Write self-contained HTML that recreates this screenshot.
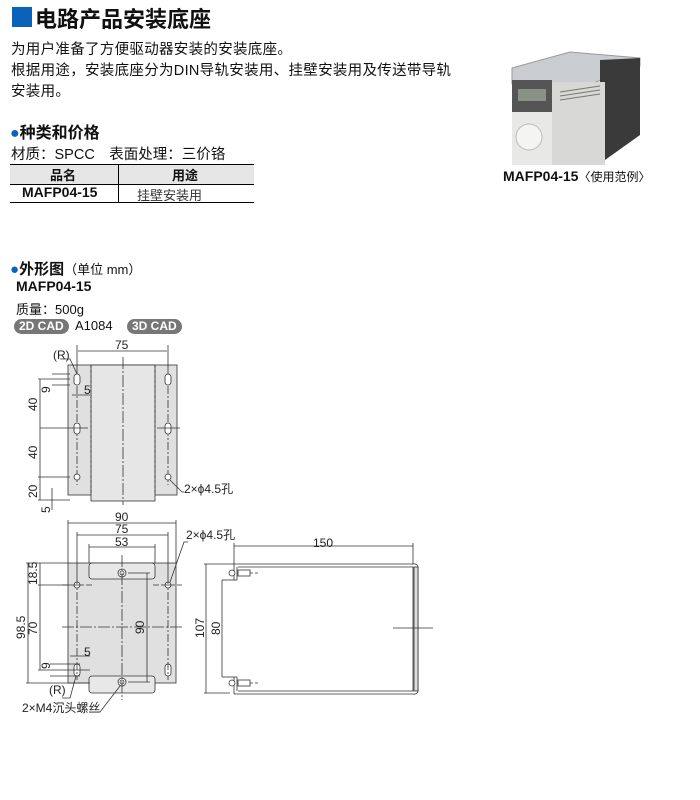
<!DOCTYPE html>
<html><head><meta charset="utf-8">
<style>
body{margin:0;width:700px;height:800px;background:#fff;position:relative;font-family:"Liberation Sans","Noto Sans CJK SC",sans-serif;color:#111;overflow:hidden}
.a{position:absolute;white-space:nowrap}
.b{font-weight:bold}
.badge{position:absolute;background:#777;color:#fff;font-weight:bold;font-size:12px;border-radius:8px;padding:0 5px;height:15px;line-height:15px}
</style></head><body>
<div class="a" style="left:12px;top:7px;width:20px;height:20px;background:#0a63b8"></div>
<div class="a b" style="left:35px;top:2px;font-size:22px">电路产品安装底座</div>
<div class="a" style="left:11px;top:40px;font-size:14.5px;line-height:21px;letter-spacing:0.3px">为用户准备了方便驱动器安装的安装底座。<br>根据用途，安装底座分为DIN导轨安装用、挂壁安装用及传送带导轨<br>安装用。</div>
<div class="a b" style="left:10px;top:119px;font-size:16px"><span style="color:#0a63b8">●</span>种类和价格</div>
<div class="a" style="left:11px;top:143px;font-size:14.5px">材质：SPCC　表面处理：三价铬</div>
<div class="a" style="left:10px;top:164px;width:244px;height:19px;background:#e6e6e6;border-top:1px solid #000;border-bottom:1px solid #000"></div>
<div class="a" style="left:10px;top:202px;width:244px;height:1px;background:#000"></div>
<div class="a" style="left:118px;top:164px;width:1px;height:39px;background:#000"></div>
<div class="a b" style="left:50px;top:165px;font-size:13px">品名</div>
<div class="a b" style="left:172px;top:165px;font-size:13px">用途</div>
<div class="a b" style="left:22px;top:184px;font-size:14px">MAFP04-15</div>
<div class="a" style="left:137px;top:185px;font-size:13px;color:#333">挂壁安装用</div>

<svg class="a" style="left:505px;top:45px" width="145" height="125" viewBox="505 45 145 125">
<polygon points="512,68 570,52 640,58 640,66 585,86 550,96 512,84" fill="#c9cdd2" stroke="#999"/>
<polygon points="600,60 640,58 640,135 605,160 600,100" fill="#3a3a3a"/>
<rect x="550" y="82" width="55" height="83" fill="#d8d8d6"/>
<rect x="512" y="80" width="40" height="85" fill="#e8e8e6"/>
<rect x="512" y="80" width="40" height="32" fill="#555"/>
<rect x="518" y="89" width="28" height="12" fill="#8a9288"/>
<circle cx="529" cy="137" r="13" fill="#f4f4f2" stroke="#bbb"/>
<g stroke="#777"><line x1="560" y1="92" x2="600" y2="86"/><line x1="560" y1="96" x2="600" y2="90"/><line x1="560" y1="100" x2="600" y2="94"/></g>
</svg>
<div class="a b" style="left:503px;top:168px;font-size:14px">MAFP04-15<span style="font-weight:normal;font-size:12px">〈使用范例〉</span></div>

<div class="a b" style="left:10px;top:258px;font-size:15px"><span style="color:#0a63b8">●</span>外形图<span style="font-weight:normal;font-size:13px">（单位 mm）</span></div>
<div class="a b" style="left:16px;top:278px;font-size:14px">MAFP04-15</div>
<div class="a" style="left:16px;top:299px;font-size:13px">质量：500g</div>
<div class="badge" style="left:14px;top:319px">2D CAD</div>
<div class="a" style="left:75px;top:318px;font-size:13px">A1084</div>
<div class="badge" style="left:127px;top:319px">3D CAD</div>

<svg class="a" style="left:0;top:0" width="700" height="800" font-family="Liberation Sans, Noto Sans CJK SC, sans-serif" font-size="12">
<g stroke="#333" stroke-width="0.8" fill="none">
<rect x="68" y="365" width="109" height="130" fill="#e0e0e0"/>
<rect x="91" y="365" width="64" height="136" fill="#e6e6e6"/>
<line x1="91" y1="365" x2="91" y2="495" stroke-dasharray="3,2"/><line x1="155" y1="365" x2="155" y2="495" stroke-dasharray="3,2"/>
<line x1="123" y1="357" x2="123" y2="505" stroke-dasharray="12,2,2,2"/>
<line x1="77" y1="372" x2="77" y2="485" stroke-dasharray="8,2,2,2"/><line x1="168" y1="372" x2="168" y2="485" stroke-dasharray="8,2,2,2"/>
<rect x="74" y="374" width="6" height="11" rx="3" fill="#fff"/><rect x="165" y="374" width="6" height="11" rx="3" fill="#fff"/>
<rect x="74" y="423" width="6" height="11" rx="3" fill="#fff"/><rect x="165" y="423" width="6" height="11" rx="3" fill="#fff"/>
<circle cx="77" cy="477" r="3" fill="#fff"/><circle cx="168" cy="477" r="3" fill="#fff"/>
<line x1="40" y1="428" x2="88" y2="428"/><line x1="157" y1="428" x2="180" y2="428"/>
<line x1="78" y1="351" x2="167" y2="351"/><line x1="77" y1="345" x2="77" y2="372"/><line x1="168" y1="345" x2="168" y2="372"/>
<line x1="40" y1="379" x2="40" y2="500"/><line x1="38" y1="379" x2="70" y2="379"/><line x1="38" y1="477" x2="70" y2="477"/><line x1="38" y1="500" x2="70" y2="500"/>
<line x1="52" y1="374" x2="70" y2="374"/><line x1="52" y1="385" x2="70" y2="385"/>
<line x1="72" y1="395" x2="90" y2="395"/><line x1="52" y1="488" x2="52" y2="510"/>
<polyline points="60,359 70,359 77,374"/><polyline points="170,480 182,492 184,492"/>
<rect x="68" y="563" width="108" height="120" fill="#e0e0e0"/>
<rect x="89" y="563" width="66" height="16" rx="3" fill="#e8e8e8"/>
<rect x="89" y="676" width="66" height="17" rx="3" fill="#e8e8e8"/>
<circle cx="122" cy="573" r="4" fill="#fff"/><circle cx="122" cy="573" r="2"/>
<circle cx="122" cy="682" r="4" fill="#fff"/><circle cx="122" cy="682" r="2"/>
<circle cx="77" cy="585" r="3" fill="#fff"/><circle cx="168" cy="585" r="3" fill="#fff"/>
<rect x="74" y="664" width="6" height="12" rx="3" fill="#fff"/><rect x="165" y="664" width="6" height="12" rx="3" fill="#fff"/>
<line x1="122" y1="555" x2="122" y2="700" stroke-dasharray="12,2,2,2"/>
<line x1="62" y1="627" x2="182" y2="627" stroke-dasharray="12,2,2,2"/>
<line x1="77" y1="578" x2="77" y2="680" stroke-dasharray="8,2,2,2"/><line x1="168" y1="578" x2="168" y2="680" stroke-dasharray="8,2,2,2"/>
<line x1="62" y1="585" x2="92" y2="585" stroke-dasharray="6,2"/><line x1="153" y1="585" x2="182" y2="585" stroke-dasharray="6,2"/>
<line x1="68" y1="523" x2="176" y2="523"/><line x1="68" y1="520" x2="68" y2="563"/><line x1="176" y1="520" x2="176" y2="563"/>
<line x1="77" y1="535" x2="168" y2="535"/><line x1="77" y1="532" x2="77" y2="578"/><line x1="168" y1="532" x2="168" y2="578"/>
<line x1="89" y1="547" x2="155" y2="547"/><line x1="89" y1="544" x2="89" y2="563"/><line x1="155" y1="544" x2="155" y2="563"/>
<line x1="28" y1="563" x2="28" y2="683"/><line x1="26" y1="563" x2="68" y2="563"/><line x1="26" y1="683" x2="90" y2="683"/>
<line x1="40" y1="563" x2="40" y2="670"/><line x1="38" y1="585" x2="70" y2="585"/><line x1="38" y1="670" x2="90" y2="670"/>
<line x1="147" y1="573" x2="147" y2="682"/><line x1="128" y1="573" x2="150" y2="573"/><line x1="128" y1="682" x2="150" y2="682"/>
<line x1="50" y1="664" x2="80" y2="664"/><line x1="50" y1="676" x2="80" y2="676"/><line x1="70" y1="656" x2="90" y2="656"/>
<polyline points="170,582 184,542 188,542"/><polyline points="62,698 70,698 76,676"/><polyline points="98,712 100,712 120,686"/>
<path d="M234,564 H413 A4,4 0 0 1 418,569 V689 A4,4 0 0 1 413,694 H234" fill="none"/>
<path d="M238,567 H413 V691 H238"/>
<rect x="414" y="567" width="4" height="124" fill="#ddd"/>
<line x1="234" y1="564" x2="234" y2="580"/><line x1="237" y1="567" x2="237" y2="580"/><line x1="222" y1="580" x2="237" y2="580"/>
<line x1="234" y1="677" x2="234" y2="694"/><line x1="237" y1="677" x2="237" y2="691"/><line x1="222" y1="677" x2="237" y2="677"/>
<circle cx="232" cy="573" r="3" fill="#fff"/><rect x="238" y="570" width="12" height="6" fill="#fff"/>
<circle cx="232" cy="683" r="3" fill="#fff"/><rect x="238" y="680" width="12" height="6" fill="#fff"/>
<line x1="250" y1="573" x2="258" y2="573" stroke-dasharray="3,2"/><line x1="250" y1="683" x2="258" y2="683" stroke-dasharray="3,2"/>
<line x1="234" y1="546" x2="413" y2="546"/><line x1="234" y1="543" x2="234" y2="564"/><line x1="413" y1="543" x2="413" y2="564"/>
<line x1="206" y1="564" x2="206" y2="693"/><line x1="204" y1="564" x2="234" y2="564"/><line x1="204" y1="693" x2="230" y2="693"/>
<line x1="222" y1="580" x2="222" y2="677"/>
<line x1="393" y1="628" x2="433" y2="628"/>
</g>
<g fill="#222">
<text x="115" y="349">75</text>
<text x="53" y="359">(R)</text><text x="84" y="394">5</text>
<text x="184" y="493">2×ϕ4.5孔</text>
<text transform="translate(37,411) rotate(-90)">40</text>
<text transform="translate(37,459) rotate(-90)">40</text>
<text transform="translate(37,498) rotate(-90)">20</text>
<text transform="translate(50,393) rotate(-90)">9</text>
<text transform="translate(50,513) rotate(-90)">5</text>
<text x="115" y="521">90</text>
<text x="115" y="533">75</text><text x="115" y="546">53</text>
<text x="186" y="539">2×ϕ4.5孔</text>
<text transform="translate(37,585) rotate(-90)">18.5</text>
<text transform="translate(25,639) rotate(-90)">98.5</text>
<text transform="translate(37,635) rotate(-90)">70</text>
<text transform="translate(144,634) rotate(-90)">90</text>
<text transform="translate(50,669) rotate(-90)">9</text>
<text x="84" y="656">5</text><text x="49" y="694">(R)</text>
<text x="22" y="712">2×M4沉头螺丝</text>
<text x="313" y="547">150</text>
<text transform="translate(204,638) rotate(-90)">107</text>
<text transform="translate(220,635) rotate(-90)">80</text>
</g>
</svg>
</body></html>
